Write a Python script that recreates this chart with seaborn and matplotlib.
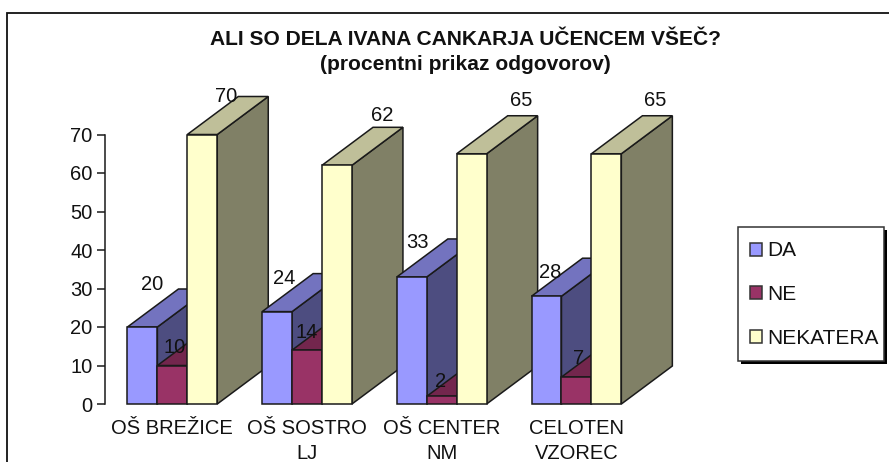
import matplotlib
matplotlib.use("Agg")
import matplotlib.pyplot as plt
import pandas as pd
import seaborn as sns
from matplotlib.patches import Polygon, Rectangle

SCHOOLS = ["OŠ BREŽICE", "OŠ SOSTRO\nLJ", "OŠ CENTER\nNM", "CELOTEN\nVZOREC"]
DA = [20, 24, 33, 28]
NE = [10, 14, 2, 7]
NEKATERA = [70, 62, 65, 65]
SERIES_NAMES = ["DA", "NE", "NEKATERA"]
Y_TICKS = [0, 10, 20, 30, 40, 50, 60, 70]
TITLE = "ALI SO DELA IVANA CANKARJA UČENCEM VŠEČ?\n(procentni prikaz odgovorov)"

W, H = 889, 462
FRONT = ["#9999FF", "#993366", "#FFFFCC"]
TOP = ["#7373BF", "#73264D", "#BFBF99"]
SIDE = ["#4D4D80", "#73264D", "#808066"]
DEPTH_X, DEPTH_Y = 51, 38  # pixels

# label offset from the bar's top centre, in pixels (x, y up), per series then school
LABEL_OFFSETS = [
    [(10, 42), (7, 33), (6, 34), (4, 24)],
    [(2, 18), (0, 18), (-1, 15), (2, 19)],
    [(24, 38), (45, 50), (50, 53), (49, 53)],
]


def fig_rect(x, y, w, h, **kwargs):
    # rectangle given in image pixels, y measured from the top
    return Rectangle((x / W, 1 - (y + h) / H), w / W, h / H, transform=fig.transFigure, **kwargs)


sns.set_theme(style="white")
plt.rcParams["font.family"] = ["Liberation Sans", "DejaVu Sans"]

df = pd.DataFrame({"school": SCHOOLS, "DA": DA, "NE": NE, "NEKATERA": NEKATERA})
long_df = df.melt(id_vars="school", var_name="series", value_name="value")

fig = plt.figure(figsize=(W / 100, H / 100), dpi=100)
ax = fig.add_axes([105 / W, 1 - 404 / H, 538.8 / W, 269.5 / H])

sns.barplot(
    data=long_df, x="school", y="value", hue="series", hue_order=SERIES_NAMES,
    palette=FRONT, width=2 / 3, dodge=True, gap=0, saturation=1, legend=False,
    edgecolor="#1a1a1a", linewidth=1.1, ax=ax,
)
ax.set_xlim(-0.5, 3.5)
ax.set_ylim(0, 70)
ax.set_yticks(Y_TICKS)
ax.set_xlabel("")
ax.set_ylabel("")
ax.tick_params(axis="y", left=True, length=6, width=1.1, color="#1a1a1a", labelsize=14.5, pad=3, labelcolor="#111111")
ax.tick_params(axis="x", bottom=False, labelsize=14.5, pad=5, labelcolor="#111111")
for label in ax.get_xticklabels():
    label.set_linespacing(1.38)
for side in ("top", "right", "bottom"):
    ax.spines[side].set_visible(False)
ax.spines["left"].set_color("#1a1a1a")
ax.spines["left"].set_linewidth(1.1)

# extrude each bar, left to right so nearer groups cover the sides of earlier ones
to_px = ax.transData
to_data = ax.transData.inverted()
z = 5
for g in range(len(SCHOOLS)):
    for s, container in enumerate(ax.containers):
        bar = container[g]
        x0, x1 = bar.get_x(), bar.get_x() + bar.get_width()
        top = bar.get_height()
        (px0, py0), (px1, py1) = to_px.transform([(x0, 0), (x1, top)])
        top_face = [(px0, py1), (px1, py1), (px1 + DEPTH_X, py1 + DEPTH_Y), (px0 + DEPTH_X, py1 + DEPTH_Y)]
        side_face = [(px1, py0), (px1, py1), (px1 + DEPTH_X, py1 + DEPTH_Y), (px1 + DEPTH_X, py0 + DEPTH_Y)]
        for face, color in ((side_face, SIDE[s]), (top_face, TOP[s])):
            ax.add_patch(Polygon(to_data.transform(face), closed=True, facecolor=color,
                                 edgecolor="#1a1a1a", linewidth=1.1, zorder=z, clip_on=False))
            z += 1
        bar.set_zorder(z)
        bar.set_clip_on(False)
        z += 1

# data labels sit above all the bars
for s, values in enumerate((DA, NE, NEKATERA)):
    for g, value in enumerate(values):
        bar = ax.containers[s][g]
        dx, dy = LABEL_OFFSETS[s][g]
        ax.annotate(str(value), (bar.get_x() + bar.get_width() / 2, value),
                    xytext=(dx * 0.72, dy * 0.72), textcoords="offset points",
                    ha="center", va="center", fontsize=14.5, color="#111111",
                    zorder=z, annotation_clip=False)

fig.text(465 / W, 1 - 52 / H, TITLE, ha="center", va="center", fontsize=15.1,
         fontweight="bold", color="#111111", linespacing=1.45)

# chart frame runs off the right and bottom of the image
fig.add_artist(fig_rect(7, 13, 900, 480, fill=False, edgecolor="#111111", linewidth=1.3))

# legend box with a hard shadow, drawn under a frameless legend
fig.add_artist(fig_rect(741, 230, 146, 134, facecolor="black", edgecolor="none"))
fig.add_artist(fig_rect(738, 227, 146, 134, facecolor="white", edgecolor="#333333", linewidth=1.1))
handles = [Rectangle((0, 0), 1, 1, facecolor=c, edgecolor="#333333", linewidth=1.1) for c in FRONT]
leg = fig.legend(
    handles, SERIES_NAMES, loc="upper left", bbox_to_anchor=(749.5 / W, 1 - 241.5 / H),
    bbox_transform=fig.transFigure, borderaxespad=0, borderpad=0, fontsize=15,
    handlelength=0.58, handleheight=0.58, handletextpad=0.25, labelspacing=1.18,
    frameon=False,
)
for text in leg.get_texts():
    text.set_color("#111111")

fig.savefig("out.png", dpi=100)
plt.close(fig)
